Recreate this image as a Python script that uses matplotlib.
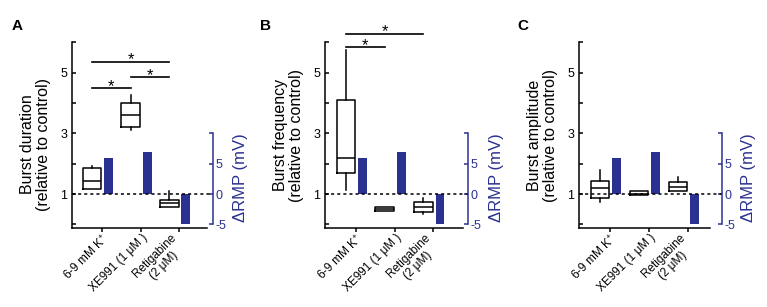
import numpy as np
import matplotlib
matplotlib.use('Agg')
import matplotlib.pyplot as plt
import matplotlib.transforms as mtransforms

plt.rcParams['font.family'] = ['Liberation Sans', 'DejaVu Sans']
plt.rcParams['mathtext.fontset'] = 'custom'
plt.rcParams['mathtext.rm'] = 'Liberation Sans'

# categories and delta RMP bars (mV)
categories = ['6-9 mM K$^{\\mathrm{+}}$', 'XE991 (1 μM )', 'Retigabine\n(2 μM)']
dRMP = [6, 7, -5]

# box summaries: whislo, q1, med, q3, whishi (relative to control)
dur_stats  = [(1.15, 1.15, 1.44, 1.87, 1.93), (3.11, 3.20, 3.61, 3.99, 4.27), (0.58, 0.58, 0.69, 0.80, 1.10)]
freq_stats = [(1.13, 1.70, 2.18, 4.11, 5.73), (0.44, 0.44, 0.50, 0.56, 0.56), (0.34, 0.41, 0.56, 0.73, 0.86)]
amp_stats  = [(0.75, 0.86, 1.19, 1.43, 1.79), (0.97, 0.97, 1.00, 1.09, 1.09), (1.09, 1.09, 1.24, 1.40, 1.57)]

# significance: (group i, group j, height)
dur_sig  = [(0, 2, 5.36), (1, 2, 4.85), (0, 1, 4.49)]
freq_sig = [(0, 2, 6.28), (0, 1, 5.84)]
amp_sig  = []

blue = '#2b3190'
W, H = 767, 307
fig = plt.figure(figsize=(W/100, H/100), dpi=100)

ybot = -0.11
box_off, bar_off = -0.26, 0.17


def panel(left_px, xlim, spacing, out_px, stats, sigs, ylabel, ylab_y, letter, letter_x, rlab_dx):
	width_px = (xlim[1] - xlim[0]) * spacing
	ax = fig.add_axes([left_px/W, (H-227.7)/H, width_px/W, 185.4/H])
	x = np.arange(1, 4)

	bstats = [dict(whislo=s[0], q1=s[1], med=s[2], q3=s[3], whishi=s[4]) for s in stats]
	lp = dict(color='k', linewidth=1.1)
	ax.bxp(bstats, positions=x + box_off, widths=0.48, showfliers=False, showcaps=False,
		   boxprops=lp, medianprops=lp, whiskerprops=lp, manage_ticks=False)

	ax.set_xlim(*xlim)
	ax.set_ylim(ybot, 6)
	ax.set_xticks(x)
	ax.set_xticklabels([])
	ax.set_yticks(range(7))
	ax.set_yticklabels(['', '1', '', '3', '', '5', ''])
	ax.tick_params(axis='y', direction='in', length=3, width=1.1, labelsize=9, pad=3)
	ax.tick_params(axis='x', direction='out', length=3, width=1.1)
	for s in ['top', 'right']:
		ax.spines[s].set_visible(False)
	for s in ['left', 'bottom']:
		ax.spines[s].set_linewidth(1.1)

	ax.set_ylabel(ylabel, fontsize=11.5, linespacing=1.05)
	ax.yaxis.set_label_coords(-21.0/width_px, ylab_y)

	# category labels
	off = mtransforms.ScaledTranslation(6.5/72, -3/72, fig.dpi_scale_trans)
	tr = mtransforms.blended_transform_factory(ax.transData, ax.transAxes) + off
	for xi, lab in zip(x, categories):
		ax.text(xi, 0, lab, transform=tr, rotation=45, ha='right', va='top',
				multialignment='center', fontsize=8.5)

	# significance bars
	for i, j, y in sigs:
		x0, x1 = i + 1 + box_off, j + 1 + box_off
		ax.plot([x0, x1], [y, y], color='k', lw=1.2, clip_on=False)
		ax.annotate('*', xy=((x0 + x1)/2, y), xytext=(0, -2), textcoords='offset points',
					ha='center', va='baseline', fontsize=12, annotation_clip=False)

	# delta RMP on twin axis
	ax2 = ax.twinx()
	ax2.bar(x + bar_off, dRMP, width=0.23, color=blue)
	ax2.set_ylim((ybot - 1)*5, 25)
	for s in ['top', 'left', 'bottom']:
		ax2.spines[s].set_visible(False)
	ax2.spines['right'].set_position(('outward', out_px*0.72))
	ax2.spines['right'].set_bounds(-5, 10)
	ax2.spines['right'].set_color(blue)
	ax2.spines['right'].set_linewidth(1.1)
	ax2.set_yticks([-5, 0, 5, 10])
	ax2.set_yticklabels(['-5', '0', '5', ''])
	ax2.tick_params(axis='y', direction='in', length=3, width=1.1, colors=blue, labelsize=9, pad=2)
	ax2.set_ylabel('ΔRMP (mV)', fontsize=12, color=blue)
	ax2.yaxis.set_label_coords(1 + rlab_dx/width_px, 0.27)

	ax2.plot([0, 1 + out_px/width_px], [0, 0], transform=ax2.get_yaxis_transform(),
			 ls=(0, (2, 2)), color='k', lw=1.1, clip_on=False)

	fig.text(letter_x/W, 1 - 30/H, letter, fontsize=11, fontweight='bold', va='baseline')


panel(71.7, (0.22, 3.72), 38.7, 6, dur_stats, dur_sig,
	  'Burst duration\n(relative to control)', 0.45, 'A', 12, 26)
panel(324.5, (0.19, 3.76), 38.75, 5, freq_stats, freq_sig,
	  'Burst frequency\n(relative to control)', 0.5, 'B', 260, 26)
panel(578.5, (0.19, 3.56), 39.0, 12, amp_stats, amp_sig,
	  'Burst amplitude\n(relative to control)', 0.5, 'C', 517, 31)

fig.savefig('out.png', dpi=100)
